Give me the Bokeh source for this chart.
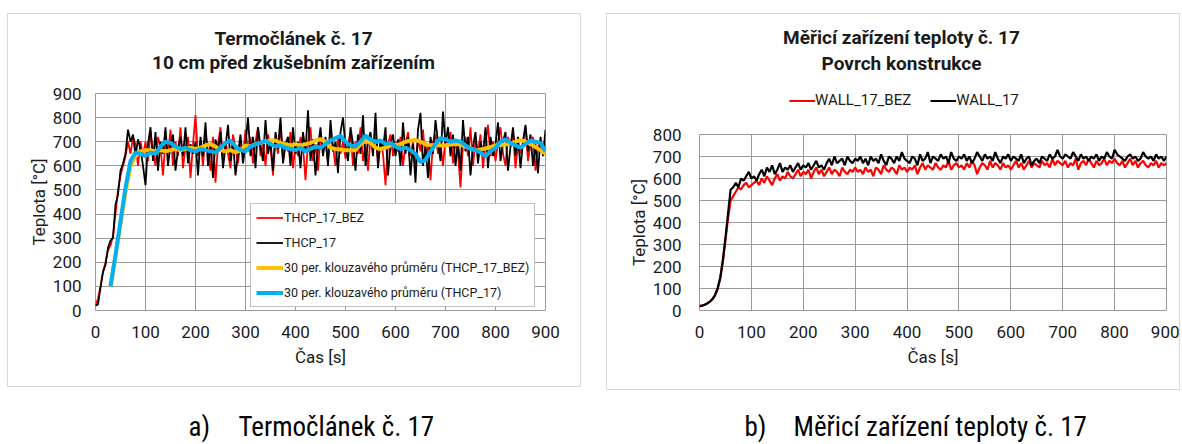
from bokeh.plotting import figure
from bokeh.models import Range1d, Legend, LegendItem, FixedTicker, Label, Spacer
from bokeh.layouts import column, row
from bokeh.embed import file_html
from bokeh.resources import INLINE

FONT = "Roboto"
NARROW = "'Liberation Sans Narrow', 'Roboto Condensed', 'Liberation Sans', sans-serif"
NAN = float("nan")

# ---------------- data ----------------
t5 = list(range(0, 901, 5))          # time [s], 5 s step
ma_t = list(range(30, 901, 10))      # time [s] of moving-average points

thcp17 = [
    20, 25, 95, 160, 190, 260, 290, 300, 440, 480, 580, 610, 650, 750, 700, 730, 640, 710, 670, 600, 520,
    690, 760, 620, 740, 580, 700, 650, 760, 600, 690, 730, 580, 670, 720, 640, 760, 610, 690, 650, 700,
    560, 720, 640, 780, 600, 690, 550, 710, 660, 740, 590, 680, 770, 620, 700, 560, 650, 730, 610, 690,
    800, 640, 720, 590, 760, 680, 620, 790, 650, 700, 580, 740, 670, 800, 610, 690, 720, 600, 760, 650,
    700, 590, 740, 660, 830, 620, 710, 560, 680, 760, 640, 720, 600, 790, 660, 700, 570, 740, 800, 680,
    620, 760, 690, 580, 730, 650, 810, 600, 700, 740, 640, 820, 590, 710, 670, 760, 560, 690, 730, 640,
    710, 600, 780, 650, 720, 560, 690, 530, 750, 820, 600, 680, 550, 720, 650, 790, 700, 620, 825, 690,
    760, 640, 730, 600, 700, 580, 790, 660, 720, 560, 680, 740, 610, 700, 650, 760, 590, 720, 640, 690,
    780, 620, 700, 740, 580, 680, 760, 640, 720, 590, 700, 770, 660, 730, 600, 690, 570, 720, 640, 750,
]
thcp17_bez = [
    20, 50, 100, 160, 200, 250, 270, 310, 400, 500, 560, 600, 640, 700, 650, 720, 690, 600, 700, 640, 700,
    620, 740, 660, 600, 720, 680, 560, 710, 650, 750, 600, 700, 640, 760, 590, 680, 720, 550, 690, 810,
    640, 700, 600, 740, 660, 580, 720, 530, 690, 760, 620, 700, 650, 590, 730, 670, 610, 700, 640, 750,
    660, 720, 610, 700, 760, 640, 690, 600, 730, 680, 560, 710, 650, 770, 620, 700, 660, 740, 590, 690,
    640, 720, 680, 540, 700, 760, 620, 690, 580, 730, 660, 700, 620, 750, 680, 600, 720, 650, 700, 630,
    690, 740, 600, 700, 650, 760, 620, 690, 580, 720, 670, 740, 610, 700, 650, 520, 690, 730, 640, 700,
    660, 720, 600, 690, 740, 640, 700, 580, 710, 660, 750, 620, 690, 540, 700, 730, 650, 690, 600, 720,
    680, 740, 610, 700, 650, 510, 690, 720, 640, 760, 600, 700, 660, 730, 590, 690, 770, 640, 700, 620,
    700, 760, 650, 600, 720, 680, 740, 590, 690, 650, 700, 760, 620, 690, 720, 580, 680, 700, 650, 690,
]
ma_thcp17 = [
    100, 230, 370, 510, 620, 655, 650, 640, 655, 650,
    680, 700, 695, 680, 670, 675, 665, 660, 670, 665,
    660, 655, 675, 695, 705, 680, 665, 660, 680, 690,
    695, 705, 690, 680, 685, 675, 670, 665, 675, 660,
    670, 680, 675, 690, 705, 715, 725, 700, 685, 680,
    700, 725, 710, 700, 705, 690, 695, 680, 670, 675,
    665, 650, 615, 625, 660, 690, 715, 710, 700, 705,
    700, 685, 670, 665, 655, 640, 660, 675, 700, 710,
    695, 685, 675, 690, 705, 700, 695, 660,
]
ma_thcp17_bez = [
    105, 225, 360, 490, 600, 640, 660, 665, 665, 660,
    665, 660, 665, 670, 665, 670, 675, 670, 675, 685,
    690, 680, 665, 660, 665, 655, 665, 685, 680, 690,
    695, 700, 705, 705, 695, 690, 685, 690, 685, 690,
    695, 705, 710, 700, 675, 670, 668, 665, 665, 665,
    690, 705, 695, 675, 670, 675, 685, 686, 690, 700,
    705, 707, 700, 690, 685, 686, 684, 685, 688, 690,
    688, 680, 672, 665, 668, 672, 678, 684, 686, 688,
    692, 700, 707, 700, 690, 678, 665, 650,
]
wall17 = [
    20, 22, 26, 32, 40, 52, 70, 100, 150, 230, 330, 440, 550, 560, 580, 560, 600, 590, 610, 630, 600,
    610, 590, 620, 640, 610, 650, 630, 660, 620, 640, 670, 630, 650, 640, 660, 630, 650, 670, 640, 660,
    650, 670, 640, 660, 680, 650, 660, 640, 670, 690, 660, 700, 670, 680, 690, 660, 700, 680, 670, 690,
    680, 700, 670, 690, 660, 700, 680, 690, 670, 710, 680, 660, 700, 690, 670, 700, 680, 720, 690, 680,
    670, 700, 690, 660, 710, 680, 690, 720, 670, 700, 690, 680, 710, 690, 700, 670, 720, 690, 680, 700,
    690, 710, 680, 700, 670, 690, 720, 700, 680, 710, 690, 700, 680, 720, 690, 670, 700, 690, 710, 680,
    700, 690, 680, 710, 670, 690, 700, 660, 680, 690, 670, 700, 690, 680, 710, 690, 700, 730, 700, 690,
    710, 700, 690, 720, 700, 680, 710, 690, 700, 680, 700, 690, 710, 680, 700, 690, 720, 700, 690, 730,
    710, 700, 690, 680, 700, 710, 690, 700, 680, 690, 720, 700, 690, 700, 680, 710, 690, 700, 680, 700,
]
wall17_bez = [
    20, 22, 26, 32, 40, 52, 70, 100, 145, 220, 320, 420, 500, 520, 540, 560, 550, 570, 580, 560, 570,
    580, 590, 570, 600, 580, 610, 590, 570, 600, 620, 590, 610, 600, 630, 610, 600, 620, 640, 610, 630,
    620, 640, 600, 630, 650, 620, 640, 610, 630, 650, 620, 640, 630, 610, 650, 630, 620, 640, 630, 650,
    630, 640, 620, 650, 630, 640, 610, 650, 640, 620, 660, 640, 630, 650, 640, 620, 660, 640, 650, 630,
    650, 640, 660, 620, 650, 670, 640, 660, 650, 640, 670, 650, 640, 660, 650, 680, 640, 660, 670, 650,
    660, 640, 670, 650, 680, 660, 620, 650, 670, 660, 640, 680, 650, 670, 660, 640, 670, 650, 660, 640,
    660, 680, 650, 670, 640, 660, 680, 650, 670, 660, 650, 680, 660, 670, 650, 690, 660, 680, 670, 660,
    680, 650, 670, 660, 690, 640, 670, 680, 660, 690, 670, 650, 680, 660, 670, 690, 660, 680, 670, 690,
    670, 660, 680, 650, 670, 690, 660, 680, 650, 670, 680, 660, 650, 670, 660, 680, 650, 670, 660, 670,
]

x_ticks = [0, 100, 200, 300, 400, 500, 600, 700, 800, 900]
y_ticks_a = [0, 100, 200, 300, 400, 500, 600, 700, 800, 900]
y_ticks_b = [0, 100, 200, 300, 400, 500, 600, 700, 800]

title_a = ["Termočlánek č. 17", "10 cm před zkušebním zařízením"]
title_b = ["Měřicí zařízení teploty č. 17", "Povrch konstrukce"]
labels_a = ["THCP_17_BEZ", "THCP_17",
            "30 per. klouzavého průměru (THCP_17_BEZ)",
            "30 per. klouzavého průměru (THCP_17)"]
labels_b = ["WALL_17_BEZ", "WALL_17"]
x_label = "Čas [s]"
y_label = "Teplota [°C]"
captions = [("a)", "Termočlánek č. 17"), ("b)", "Měřicí zařízení teploty č. 17")]

RED, BLACK, YELLOW, BLUE = "#ff0000", "#000000", "#ffc000", "#00b0f0"
GRID = "#9a9a9a"
BOX = {"border": "1px solid #d9d9d9"}


def xy(xs, ys):
    n = min(len(xs), len(ys))
    return xs[:n], ys[:n]


def blank(w, h):
    f = figure(width=w, height=h, x_range=Range1d(0, 1), y_range=Range1d(0, 1),
               toolbar_location=None, output_backend="svg", min_border=0)
    f.frame_align = False
    f.axis.visible = False
    f.grid.visible = False
    f.outline_line_color = None
    return f


def header(w, h, lines, cx, y1, y2):
    f = blank(w, h)
    for txt, yy in ((lines[0], y1), (lines[1], y2)):
        f.add_layout(Label(x=cx, y=yy, x_units="screen", y_units="screen", text=txt,
                           text_font=FONT, text_font_size="19px", text_font_style="bold",
                           text_color="#1a1a1a", text_align="center", text_baseline="middle"))
    return f


def chart(w, h, ymax, yticks, left, right, top, bottom, ytick_standoff):
    p = figure(width=w, height=h, x_range=Range1d(0, 900), y_range=Range1d(0, ymax),
               toolbar_location=None, output_backend="svg",
               min_border_left=left, min_border_right=right,
               min_border_top=top, min_border_bottom=bottom)
    p.frame_align = False
    p.xaxis.ticker = FixedTicker(ticks=x_ticks)
    p.yaxis.ticker = FixedTicker(ticks=yticks)
    for ax in p.axis:
        ax.axis_line_color = None
        ax.major_tick_line_color = None
        ax.minor_tick_line_color = None
        ax.major_tick_out = 0
        ax.major_tick_in = 0
        ax.minor_tick_out = 0
        ax.minor_tick_in = 0
        ax.major_label_text_font = FONT
        ax.major_label_text_font_size = "17px"
        ax.major_label_text_color = "#1a1a1a"
        ax.axis_label_text_font = FONT
        ax.axis_label_text_font_size = "17px"
        ax.axis_label_text_font_style = "normal"
        ax.axis_label_text_color = "#1a1a1a"
    p.xaxis.axis_label = x_label
    p.yaxis.axis_label = y_label
    p.xaxis.major_label_standoff = 15
    p.xaxis.axis_label_standoff = 6
    p.yaxis.major_label_standoff = ytick_standoff
    p.yaxis.axis_label_standoff = 1
    p.grid.grid_line_color = GRID
    p.grid.grid_line_width = 1
    p.outline_line_color = GRID
    return p


# ---------------- chart a ----------------
hA = header(572, 67, title_a, 285, 43, 19)
pA = chart(572, 305, 900, y_ticks_a, 87, 35, 12, 76, 14)

rr = pA.line(*xy(t5, thcp17_bez), line_color=RED, line_width=1.8)
rb = pA.line(*xy(t5, thcp17), line_color=BLACK, line_width=1.8)
ry = pA.line(*xy(ma_t, ma_thcp17_bez), line_color=YELLOW, line_width=4)
rc = pA.line(*xy(ma_t, ma_thcp17), line_color=BLUE, line_width=4)

legA = Legend(items=[LegendItem(label=labels_a[0], renderers=[rr]),
                     LegendItem(label=labels_a[1], renderers=[rb]),
                     LegendItem(label=labels_a[2], renderers=[ry]),
                     LegendItem(label=labels_a[3], renderers=[rc])],
              location=(155, 3), margin=0, padding=5, spacing=8,
              glyph_width=27, glyph_height=17, label_height=17, label_standoff=1,
              label_text_font=FONT, label_text_font_size="12.5px", label_text_color="#1a1a1a",
              border_line_color="#808080", border_line_width=1,
              background_fill_color="white", background_fill_alpha=1.0)
pA.add_layout(legA)

# ---------------- chart b ----------------
hB = header(572, 108, title_b, 294, 85, 59)
pB = chart(572, 267, 800, y_ticks_b, 92, 13, 12, 79, 18)

wr = pB.line(*xy(t5, wall17_bez), line_color=RED, line_width=2.2)
wb = pB.line(*xy(t5, wall17), line_color=BLACK, line_width=2.2)

# legend of chart b sits in the header above the plot; its swatch renderers hold no
# drawable point and only repeat the line styles of the two series of chart b
sr = hB.line([NAN, NAN], [NAN, NAN], line_color=RED, line_width=2)
sb = hB.line([NAN, NAN], [NAN, NAN], line_color=BLACK, line_width=2)
legB = Legend(items=[LegendItem(label=labels_b[0], renderers=[sr]),
                     LegendItem(label=labels_b[1], renderers=[sb])],
              orientation="horizontal", location=(182, 13), margin=0, padding=0, spacing=19,
              glyph_width=26, glyph_height=17, label_height=17, label_standoff=0,
              label_text_font=FONT, label_text_font_size="15px", label_text_color="#1a1a1a",
              border_line_color=None, background_fill_alpha=0)
hB.add_layout(legB)

# ---------------- captions ----------------
cap = blank(1180, 54)
for (letter, text), (x0, x1) in zip(captions, [(188, 238), (744, 793)]):
    for txt, xx in ((letter, x0), (text, x1)):
        cap.add_layout(Label(x=xx, y=18, x_units="screen", y_units="screen", text=txt,
                             text_font=NARROW, text_font_size="27px", text_baseline="middle",
                             text_color="#000000"))

boxA = column(hA, pA, styles=BOX)
boxB = column(hB, pB, styles=BOX)
charts = row(Spacer(width=7), boxA, Spacer(width=25), boxB)
layout = column(Spacer(height=13), charts, cap)
open("out.html", "w").write(file_html(layout, INLINE))
